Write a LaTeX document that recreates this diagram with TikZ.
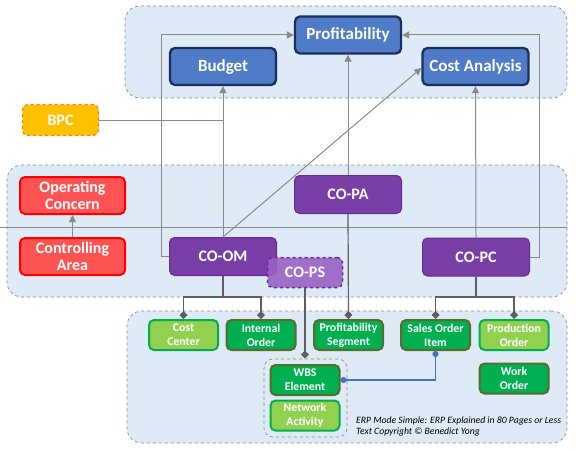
\documentclass[tikz,border=0pt]{standalone}
\usepackage{fontspec}
\setmainfont{Carlito}
\usetikzlibrary{arrows.meta}
\definecolor{grpfill}{HTML}{DEEAF6}
\definecolor{grpline}{HTML}{8C8C8C}
\definecolor{bluefill}{HTML}{4F7BC8}
\definecolor{blueline}{HTML}{1A2F60}
\definecolor{purfill}{HTML}{7A3FA6}
\definecolor{purline}{HTML}{6A2A96}
\definecolor{psfill}{HTML}{9A62C6}
\definecolor{redfill}{HTML}{FF5252}
\definecolor{redline}{HTML}{FF0000}
\definecolor{bpcfill}{HTML}{FFC000}
\definecolor{bpcline}{HTML}{ED7D31}
\definecolor{lgfill}{HTML}{92D050}
\definecolor{dgfill}{HTML}{00B050}
\definecolor{olive}{HTML}{5A6B2E}
\definecolor{arrgray}{HTML}{8A8A8A}
\definecolor{darkgray}{HTML}{5F5F5F}
\definecolor{bluecon}{HTML}{4472C4}
\tikzset{
  grp/.style={draw=grpline, dashed, fill=grpfill, rounded corners=15pt, line width=0.7pt},
  base/.style={rounded corners=5pt, align=center, text=white, font=\bfseries, inner sep=1pt},
  topbox/.style={base, fill=bluefill, draw=blueline, line width=2.3pt, minimum width=106pt, minimum height=37pt, font=\bfseries\fontsize{17}{19}\selectfont},
  purbox/.style={base, fill=purfill, draw=purline, line width=1pt, minimum width=107pt, minimum height=38pt, font=\bfseries\fontsize{16}{17.5}\selectfont},
  redbox/.style={base, fill=redfill, draw=redline, line width=2pt, minimum width=105pt, minimum height=37pt, font=\bfseries\fontsize{16}{17.5}\selectfont},
  lgbox/.style={base, fill=lgfill, draw=dgfill, line width=2pt, minimum width=69pt, minimum height=30pt, font=\bfseries\fontsize{11.8}{14}\selectfont},
  dgbox/.style={base, fill=dgfill, draw=olive, line width=2pt, minimum width=69pt, minimum height=30pt, font=\bfseries\fontsize{11.8}{14}\selectfont},
  arr/.style={draw=arrgray, line width=1pt, -{Triangle[length=7pt,width=7pt]}},
  plain/.style={draw=arrgray, line width=1pt},
  dia/.style={draw=darkgray, line width=1.2pt, -{Diamond[length=8pt,width=8pt]}},
  dline/.style={draw=darkgray, line width=1.2pt},
  bcon/.style={draw=bluecon, line width=1.2pt, {Circle[length=6pt]}-{Circle[length=6pt]}},
}
\begin{document}
\begin{tikzpicture}[x=1pt,y=-1pt]
\useasboundingbox (0,0) rectangle (577,452);
% groups
\node[grp, minimum width=442pt, minimum height=92pt, inner sep=0pt] (gtop) at (346,52) {};
\node[grp, minimum width=560pt, minimum height=132pt, inner sep=0pt] (gmid) at (287,231) {};
\node[grp, minimum width=440pt, minimum height=132pt, inner sep=0pt] (gbot) at (347,377) {};
\draw[plain] (0,227) -- (gmid.east |- 0,227);
\node[grp, rounded corners=9pt, minimum width=83pt, minimum height=78pt, inner sep=0pt] (gwbs) at (305.5,398) {};
% top nodes
\node[topbox] (prof) at (348,35) {Profitability};
\node[topbox] (budget) at (223,66.5) {Budget};
\node[topbox] (ca) at (475.5,66.5) {Cost Analysis};
\node[base, fill=bpcfill, draw=bpcline, dashed, line width=1.2pt, minimum width=76pt, minimum height=31pt, font=\bfseries\fontsize{16}{17.5}\selectfont] (bpc) at (60.5,120) {BPC};
% middle nodes
\node[redbox] (oc) at (72.5,195.5) {Operating\\Concern};
\node[redbox] (ctrl) at (72.5,256.5) {Controlling\\Area};
\node[purbox] (coom) at (223,256.5) {CO-OM};
\node[purbox] (copa) at (348,194.5) {CO-PA};
\node[purbox] (copc) at (476,257) {CO-PC};
% connectors up
\draw[arr] (ctrl.north) -- (oc.south);
\draw[arr] (coom.west) -- ++(-8,0) |- (prof.west);
\draw[arr] (copc.east) -- ++(9,0) |- (prof.east);
\draw[plain] (bpc.east) -- (bpc.east -| budget.south);
\draw[arr] (coom.north) -- (budget.south);
\draw[arr] (coom.north) -- ([yshift=-1.5pt]ca.west);
\draw[arr] (copa.north) -- (prof.south);
\draw[arr] (copc.north) -- (ca.south);
% CO-PS overlapping
\node[base, fill=psfill, fill opacity=0.9, text opacity=1, draw=purline, dashed, line width=1.5pt, minimum width=75pt, minimum height=30pt, font=\bfseries\fontsize{16}{17.5}\selectfont] (cops) at (305,272.5) {CO-PS};
% bottom nodes
\node[lgbox] (cc) at (183.5,335) {Cost\\Center};
\node[dgbox] (io) at (261,335) {Internal\\Order};
\node[dgbox] (ps) at (348.5,335) {Profitability\\Segment};
\node[dgbox] (soi) at (435.5,335) {Sales Order\\Item};
\node[lgbox] (po) at (514,335) {Production\\Order};
\node[dgbox] (wo) at (514,378.5) {Work\\Order};
\node[dgbox] (wbs) at (305,380) {WBS\\Element};
\node[lgbox] (na) at (305,415.5) {Network\\Activity};
% connectors down
\coordinate (omj) at (223,297);
\coordinate (pcj) at (476,297);
\draw[dline] (coom.south) -- (omj);
\draw[dia] (omj) -| (cc.north);
\draw[dia] (omj) -| (io.north);
\draw[dline] (copc.south) -- (pcj);
\draw[dia] (pcj) -| (soi.north);
\draw[dia] (pcj) -| (po.north);
\draw[dia] (cops.south) -- (cops.south |- gwbs.north);
\draw[dia] (copa.south) -- (ps.north);
\draw[bcon] (soi.south) |- (wbs.east);
% credit
\node[anchor=west, align=left, font=\itshape\fontsize{9.7}{11.5}\selectfont, inner sep=0pt] (credit) at (356,426.5) {ERP Mode Simple: ERP Explained in 80 Pages or Less\\Text Copyright \textcopyright{} Benedict Yong};
\end{tikzpicture}
\end{document}
